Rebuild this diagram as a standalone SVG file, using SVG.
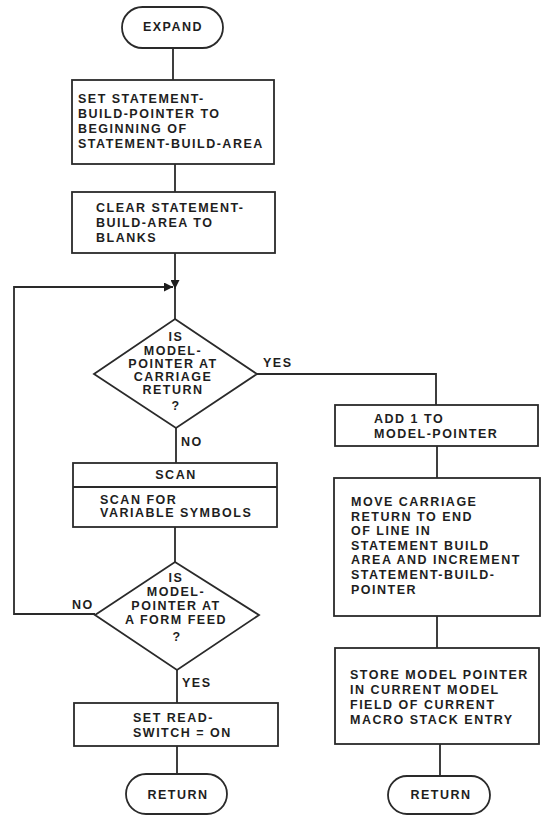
<svg xmlns="http://www.w3.org/2000/svg" width="546" height="816" viewBox="0 0 546 816">
<style>
.s{fill:none;stroke:#2a2a2a;stroke-width:1.8}
.b{fill:#fff;stroke:#2a2a2a;stroke-width:1.8}
text{font-family:"Liberation Sans",Arial,sans-serif;font-weight:bold;font-size:12.5px;letter-spacing:1.5px;fill:#1e1e1e}
.m{text-anchor:middle}
</style>
<defs>
<marker id="ah" viewBox="0 0 10 10" refX="10" refY="5" markerWidth="9" markerHeight="9" markerUnits="userSpaceOnUse" orient="auto">
<path d="M0,0 L10,5 L0,10 z" fill="#1e1e1e"/>
</marker>
</defs>
<rect width="546" height="816" fill="#fff"/>
<g id="connectors">
<line class="s" x1="173" y1="48" x2="173" y2="80"/>
<line class="s" x1="175" y1="164" x2="175" y2="192"/>
<line class="s" x1="175" y1="253" x2="175" y2="289" marker-end="url(#ah)"/>
<line class="s" x1="175" y1="287" x2="175" y2="319"/>
<polyline class="s" points="95,614 14,614 14,287 173,287" marker-end="url(#ah)"/>
<line class="s" x1="176" y1="428" x2="176" y2="463"/>
<line class="s" x1="175" y1="527" x2="175" y2="562"/>
<line class="s" x1="177" y1="670" x2="177" y2="703"/>
<line class="s" x1="177" y1="746" x2="177" y2="774"/>
<polyline class="s" points="257,374 436,374 436,405"/>
<line class="s" x1="437" y1="446" x2="437" y2="478"/>
<line class="s" x1="437" y1="616" x2="437" y2="648"/>
<line class="s" x1="440" y1="744" x2="440" y2="776"/>
<text x="263" y="367">YES</text>
<text x="181" y="446">NO</text>
<text x="72" y="609">NO</text>
<text x="182" y="687">YES</text>
</g>
<g id="expand">
<rect class="b" x="122" y="7" width="101" height="41" rx="20.5"/>
<text class="m" x="173" y="31">EXPAND</text>
</g>
<g id="set-pointer">
<rect class="b" x="72" y="80" width="202" height="84"/>
<text x="78" y="103">SET STATEMENT-</text>
<text x="78" y="118">BUILD-POINTER TO</text>
<text x="78" y="133">BEGINNING OF</text>
<text x="78" y="148">STATEMENT-BUILD-AREA</text>
</g>
<g id="clear">
<rect class="b" x="72" y="192" width="203" height="61"/>
<text x="96" y="212">CLEAR STATEMENT-</text>
<text x="96" y="227">BUILD-AREA TO</text>
<text x="96" y="242">BLANKS</text>
</g>
<g id="decision-cr">
<polygon class="b" points="175,319 257,374 176,428 94,374"/>
<text class="m" x="176" y="341">IS</text>
<text class="m" x="173" y="355">MODEL-</text>
<text class="m" x="173" y="368">POINTER AT</text>
<text class="m" x="173" y="381">CARRIAGE</text>
<text class="m" x="173" y="394">RETURN</text>
<text class="m" x="176" y="410">?</text>
</g>
<g id="scan">
<rect class="b" x="73" y="463" width="204" height="64"/>
<line class="s" x1="73" y1="487" x2="277" y2="487"/>
<text class="m" x="176" y="479">SCAN</text>
<text x="100" y="504">SCAN FOR</text>
<text x="100" y="517">VARIABLE SYMBOLS</text>
</g>
<g id="decision-ff">
<polygon class="b" points="175,562 259,615 177,670 95,615"/>
<text class="m" x="176" y="582">IS</text>
<text class="m" x="176" y="596">MODEL-</text>
<text class="m" x="176" y="610">POINTER AT</text>
<text class="m" x="176" y="624">A FORM FEED</text>
<text class="m" x="177" y="641">?</text>
</g>
<g id="set-read-switch">
<rect class="b" x="74" y="703" width="204" height="43"/>
<text x="133" y="722">SET READ-</text>
<text x="133" y="737">SWITCH = ON</text>
</g>
<g id="return-left">
<rect class="b" x="126" y="774" width="101" height="40" rx="20"/>
<text class="m" x="178" y="799">RETURN</text>
</g>
<g id="add-one">
<rect class="b" x="335" y="405" width="203" height="41"/>
<text x="374" y="423">ADD 1 TO</text>
<text x="374" y="438">MODEL-POINTER</text>
</g>
<g id="move-cr">
<rect class="b" x="334" y="478" width="206" height="138"/>
<text x="351" y="506">MOVE CARRIAGE</text>
<text x="351" y="521">RETURN TO END</text>
<text x="351" y="535">OF LINE IN</text>
<text x="351" y="550">STATEMENT BUILD</text>
<text x="351" y="564">AREA AND INCREMENT</text>
<text x="351" y="579">STATEMENT-BUILD-</text>
<text x="351" y="594">POINTER</text>
</g>
<g id="store">
<rect class="b" x="335" y="648" width="204" height="96"/>
<text x="350" y="679">STORE MODEL POINTER</text>
<text x="350" y="694">IN CURRENT MODEL</text>
<text x="350" y="709">FIELD OF CURRENT</text>
<text x="350" y="724">MACRO STACK ENTRY</text>
</g>
<g id="return-right">
<rect class="b" x="388" y="776" width="102" height="38" rx="19"/>
<text class="m" x="441" y="799">RETURN</text>
</g>
</svg>
